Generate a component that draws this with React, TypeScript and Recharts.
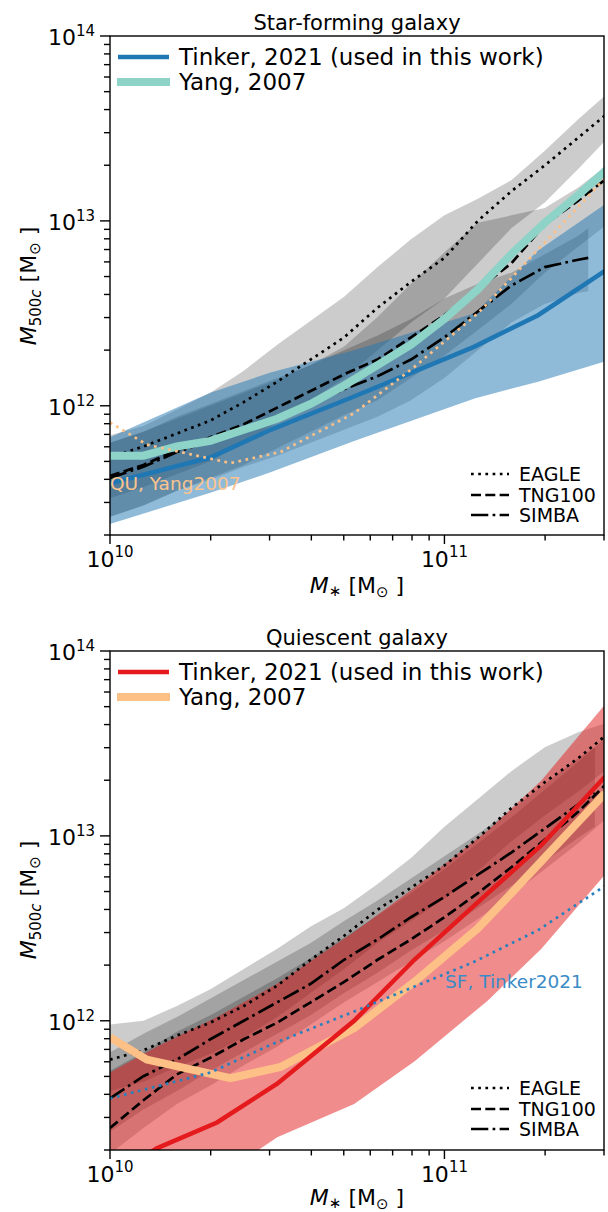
import React from "react";
import { ComposedChart, Area, Line, XAxis, YAxis } from "recharts";

// log10(M*) grid used by the simulation medians and most curves
const GRID = [10.0, 10.1, 10.2, 10.3, 10.4, 10.5, 10.6, 10.7, 10.8, 10.9, 11.0, 11.1, 11.2, 11.3, 11.4, 11.5];
const SIMBA_SF_X = [10.0, 10.1, 10.2, 10.3, 10.4, 10.5, 10.6, 10.7, 10.8, 10.9, 11.0, 11.1, 11.2, 11.3, 11.4, 11.43];
const SIMBA_QU_X = [10.0, 10.1, 10.2, 10.3, 10.4, 10.5, 10.6, 10.7, 10.8, 10.9, 11.0, 11.1, 11.2, 11.3, 11.4, 11.45];

// all values below are log10(M500c / Msun)

// Tinker 2021, star-forming
const tinkerSfX = [10.0, 10.3, 10.48, 10.73, 11.09, 11.28, 11.48];
const tinkerSfMed = [11.58, 11.72, 11.87, 12.05, 12.32, 12.49, 12.73];
const tinkerSfLo = [11.36, 11.53, 11.64, 11.81, 12.04, 12.13, 12.24];
const tinkerSfHi = [11.83, 12.07, 12.18, 12.3, 12.5, 12.84, 13.09];

// Yang 2007, star-forming (on GRID)
const yangSf = [11.73, 11.73, 11.78, 11.81, 11.87, 11.93, 12.01, 12.11, 12.22, 12.33, 12.47, 12.63, 12.82, 12.99, 13.14, 13.3];

// Yang 2007, quiescent
const yangQuX = [10.0, 10.11, 10.36, 10.51, 10.73, 10.91, 11.1, 11.2, 11.48];
const yangQu = [11.91, 11.79, 11.69, 11.75, 11.96, 12.21, 12.5, 12.69, 13.23];

// simulations, star-forming
const eagleSfMed = [11.72, 11.78, 11.85, 11.92, 12.02, 12.13, 12.25, 12.37, 12.53, 12.67, 12.8, 13.0, 13.16, 13.3, 13.45, 13.6];
const eagleSfHi = [11.84, 11.89, 11.98, 12.07, 12.19, 12.33, 12.46, 12.59, 12.75, 12.9, 13.03, 13.12, 13.22, 13.38, 13.55, 13.71];
const eagleSfLo = [11.5, 11.56, 11.63, 11.7, 11.8, 11.91, 12.03, 12.15, 12.3, 12.45, 12.58, 12.77, 12.96, 13.1, 13.28, 13.47];
const tngSfMed = [11.62, 11.68, 11.76, 11.83, 11.9, 11.99, 12.08, 12.17, 12.25, 12.37, 12.49, 12.63, 12.77, 12.98, 13.11, 13.25];
const tngSfHi = [11.8, 11.86, 11.93, 12.0, 12.07, 12.14, 12.22, 12.32, 12.48, 12.66, 12.83, 12.99, 13.03, 13.07, 13.18, 13.32];
const tngSfLo = [11.4, 11.46, 11.54, 11.61, 11.68, 11.77, 11.86, 11.95, 12.03, 12.15, 12.27, 12.41, 12.55, 12.72, 12.86, 13.0];
const simbaSfMed = [11.61, 11.67, 11.75, 11.81, 11.88, 11.94, 12.01, 12.09, 12.16, 12.25, 12.37, 12.51, 12.65, 12.75, 12.79, 12.8];
const simbaSfHi = [11.8, 11.86, 11.94, 12.01, 12.08, 12.15, 12.22, 12.3, 12.38, 12.47, 12.58, 12.66, 12.72, 12.82, 12.92, 12.96];
const simbaSfLo = [11.4, 11.46, 11.54, 11.6, 11.67, 11.73, 11.8, 11.87, 11.94, 12.03, 12.15, 12.3, 12.45, 12.55, 12.61, 12.62];

// Tinker 2021, quiescent
const tinkerQuX = [10.0, 10.14, 10.32, 10.5, 10.73, 10.91, 11.13, 11.29, 11.48];
const tinkerQuMed = [11.15, 11.31, 11.45, 11.66, 12.0, 12.33, 12.69, 12.95, 13.32];
const tinkerQuLo = [10.85, 10.97, 11.15, 11.37, 11.55, 11.78, 12.11, 12.39, 12.79];
const tinkerQuHi = [11.72, 11.86, 12.02, 12.2, 12.48, 12.72, 13.03, 13.3, 13.71];

// simulations, quiescent
const eagleQuMed = [11.79, 11.84, 11.92, 11.99, 12.08, 12.19, 12.33, 12.46, 12.6, 12.72, 12.84, 12.99, 13.15, 13.29, 13.42, 13.57];
const eagleQuHi = [11.98, 12.0, 12.08, 12.17, 12.28, 12.39, 12.51, 12.61, 12.74, 12.88, 13.05, 13.2, 13.35, 13.48, 13.56, 13.62];
const eagleQuLo = [11.62, 11.67, 11.75, 11.82, 11.91, 12.02, 12.15, 12.28, 12.42, 12.54, 12.66, 12.81, 12.97, 13.11, 13.24, 13.38];
const tngQuMed = [11.42, 11.57, 11.71, 11.8, 11.9, 11.99, 12.1, 12.21, 12.33, 12.44, 12.56, 12.69, 12.83, 12.98, 13.13, 13.31];
const tngQuHi = [11.73, 11.83, 11.94, 12.03, 12.13, 12.23, 12.34, 12.45, 12.57, 12.69, 12.82, 12.96, 13.1, 13.25, 13.4, 13.56];
const tngQuLo = [11.28, 11.42, 11.55, 11.65, 11.76, 11.86, 11.98, 12.1, 12.21, 12.32, 12.43, 12.55, 12.68, 12.82, 12.96, 13.12];
const simbaQuMed = [11.58, 11.7, 11.79, 11.9, 12.0, 12.1, 12.2, 12.33, 12.44, 12.56, 12.67, 12.79, 12.91, 13.04, 13.17, 13.23];
const simbaQuHi = [11.83, 11.93, 12.02, 12.12, 12.22, 12.32, 12.42, 12.54, 12.65, 12.77, 12.89, 13.01, 13.14, 13.28, 13.42, 13.48];
const simbaQuLo = [11.4, 11.52, 11.62, 11.73, 11.83, 11.93, 12.03, 12.15, 12.26, 12.38, 12.49, 12.61, 12.73, 12.86, 12.99, 13.05];

const X_TICKS = [1e10, 2e10, 3e10, 4e10, 5e10, 6e10, 7e10, 8e10, 9e10, 1e11, 2e11, 3e11];
const Y_TICKS = [
  2e11, 3e11, 4e11, 5e11, 6e11, 7e11, 8e11, 9e11,
  1e12, 2e12, 3e12, 4e12, 5e12, 6e12, 7e12, 8e12, 9e12,
  1e13, 2e13, 3e13, 4e13, 5e13, 6e13, 7e13, 8e13, 9e13, 1e14,
];

const FONT = "DejaVu Sans, sans-serif";
const LW = 2.7;
const DOT = "2.7 4.5";
const DASH = "10 4.3";
const DASHDOT = "17.3 4.3 2.7 4.3";

type Row = { x: number; [k: string]: any };

function buildRows(
  lines: [string, number[], number[]][],
  bands: [string, number[], number[], number[]][]
): Row[] {
  const map = new Map<number, Row>();
  const get = (lx: number) => {
    const k = Math.round(lx * 1000);
    if (!map.has(k)) map.set(k, { x: Math.pow(10, lx) });
    return map.get(k)!;
  };
  lines.forEach(([key, xs, ys]) => xs.forEach((lx, i) => { get(lx)[key] = Math.pow(10, ys[i]); }));
  bands.forEach(([key, xs, lo, hi]) =>
    xs.forEach((lx, i) => { get(lx)[key] = [Math.pow(10, lo[i]), Math.pow(10, hi[i])]; })
  );
  return Array.from(map.entries()).sort((a, b) => a[0] - b[0]).map((e) => e[1]);
}

const sfRows = buildRows(
  [
    ["eagle", GRID, eagleSfMed],
    ["tng", GRID, tngSfMed],
    ["simba", SIMBA_SF_X, simbaSfMed],
    ["tinker", tinkerSfX, tinkerSfMed],
    ["yang", GRID, yangSf],
    ["other", yangQuX, yangQu],
  ],
  [
    ["eagleBand", GRID, eagleSfLo, eagleSfHi],
    ["tngBand", GRID, tngSfLo, tngSfHi],
    ["simbaBand", SIMBA_SF_X, simbaSfLo, simbaSfHi],
    ["tinkerBand", tinkerSfX, tinkerSfLo, tinkerSfHi],
  ]
);

const quRows = buildRows(
  [
    ["eagle", GRID, eagleQuMed],
    ["tng", GRID, tngQuMed],
    ["simba", SIMBA_QU_X, simbaQuMed],
    ["tinker", tinkerQuX, tinkerQuMed],
    ["yang", yangQuX, yangQu],
    ["other", tinkerSfX, tinkerSfMed],
  ],
  [
    ["eagleBand", GRID, eagleQuLo, eagleQuHi],
    ["tngBand", GRID, tngQuLo, tngQuHi],
    ["simbaBand", SIMBA_QU_X, simbaQuLo, simbaQuHi],
    ["tinkerBand", tinkerQuX, tinkerQuLo, tinkerQuHi],
  ]
);

const isMajor = (v: number) => Math.abs(Math.log10(v) - Math.round(Math.log10(v))) < 1e-6;

const XTick = (props: any) => {
  const { x, y, payload } = props;
  const v = payload.value;
  const major = isMajor(v);
  return (
    <g>
      <line x1={x} x2={x} y1={y} y2={y + (major ? 9 : 5.5)} stroke="#000" strokeWidth={1.4} />
      {major && (
        <text x={x} y={y + 32} textAnchor="middle" fontSize={22} fontFamily={FONT} fill="#000">
          10<tspan dy={-10} fontSize={15}>{Math.round(Math.log10(v))}</tspan>
        </text>
      )}
    </g>
  );
};

const YTick = (props: any) => {
  const { x, y, payload } = props;
  const v = payload.value;
  const major = isMajor(v);
  return (
    <g>
      <line x1={x - (major ? 10 : 6)} x2={x} y1={y} y2={y} stroke="#000" strokeWidth={1.4} />
      {major && (
        <text x={x - 15} y={y + 9} textAnchor="end" fontSize={22} fontFamily={FONT} fill="#000">
          10<tspan dy={-9} fontSize={15}>{Math.round(Math.log10(v))}</tspan>
        </text>
      )}
    </g>
  );
};

const bandProps = {
  type: "linear" as const,
  stroke: "none",
  connectNulls: true,
  dot: false,
  activeDot: false,
  isAnimationActive: false,
};
const lineProps = {
  type: "linear" as const,
  connectNulls: true,
  dot: false,
  activeDot: false,
  isAnimationActive: false,
};

const Panel = ({ rows, sf, height, bottom }: { rows: Row[]; sf: boolean; height: number; bottom: number }) => (
  <ComposedChart width={608} height={height} data={rows} margin={{ top: 36, right: 4, left: 10, bottom }}>
    <XAxis
      dataKey="x"
      type="number"
      scale="log"
      domain={[1e10, 3e11]}
      allowDataOverflow
      ticks={X_TICKS}
      interval={0}
      tick={<XTick />}
      tickLine={false}
      axisLine={false}
      tickSize={0}
      tickMargin={0}
      height={60}
    />
    <YAxis
      type="number"
      scale="log"
      domain={[2e11, 1e14]}
      allowDataOverflow
      ticks={Y_TICKS}
      interval={0}
      tick={<YTick />}
      tickLine={false}
      axisLine={false}
      tickSize={0}
      tickMargin={0}
      width={100}
    />
    <Area dataKey="eagleBand" fill="#000" fillOpacity={0.2} {...bandProps} />
    <Area dataKey="tngBand" fill="#000" fillOpacity={0.2} {...bandProps} />
    <Area dataKey="simbaBand" fill="#000" fillOpacity={0.2} {...bandProps} />
    <Area dataKey="tinkerBand" fill={sf ? "#1f77b4" : "#e41a1c"} fillOpacity={0.5} {...bandProps} />
    <Line dataKey="eagle" stroke="#000" strokeWidth={LW} strokeDasharray={DOT} {...lineProps} />
    <Line dataKey="tng" stroke="#000" strokeWidth={LW} strokeDasharray={DASH} {...lineProps} />
    <Line dataKey="simba" stroke="#000" strokeWidth={LW} strokeDasharray={DASHDOT} {...lineProps} />
    {sf ? (
      <Line dataKey="tinker" stroke="#1f77b4" strokeWidth={4.5} {...lineProps} />
    ) : (
      <Line dataKey="yang" stroke="#fdc086" strokeWidth={8} {...lineProps} />
    )}
    {sf ? (
      <Line dataKey="yang" stroke="#8dd3c7" strokeWidth={8} {...lineProps} />
    ) : (
      <Line dataKey="tinker" stroke="#e41a1c" strokeWidth={4.5} {...lineProps} />
    )}
    <Line
      dataKey="other"
      stroke={sf ? "#fdc086" : "#2a80bd"}
      strokeWidth={LW}
      strokeDasharray={DOT}
      {...lineProps}
    />
  </ComposedChart>
);

const StyleKey = ({ y0 }: { y0: number }) => (
  <g fontSize={19} fontFamily={FONT} fill="#000">
    <line x1={471} x2={509} y1={y0} y2={y0} stroke="#000" strokeWidth={LW} strokeDasharray={DOT} />
    <text x={519} y={y0 + 7}>EAGLE</text>
    <line x1={471} x2={509} y1={y0 + 21} y2={y0 + 21} stroke="#000" strokeWidth={LW} strokeDasharray={DASH} />
    <text x={519} y={y0 + 28}>TNG100</text>
    <line x1={471} x2={509} y1={y0 + 41} y2={y0 + 41} stroke="#000" strokeWidth={LW} strokeDasharray={DASHDOT} />
    <text x={519} y={y0 + 48}>SIMBA</text>
  </g>
);

const XLabel = ({ y }: { y: number }) => (
  <text x={357} y={y} textAnchor="middle" fontSize={22} fontFamily={FONT}>
    <tspan fontStyle="italic">M</tspan>
    <tspan fontSize={15} dy={3}>∗</tspan>
    <tspan dy={-3}> [M</tspan>
    <tspan fontSize={15} dy={4}>⊙</tspan>
    <tspan dy={-4}> ]</tspan>
  </text>
);

const YLabel = ({ cy }: { cy: number }) => (
  <text
    x={36}
    y={cy}
    textAnchor="middle"
    fontSize={22}
    fontFamily={FONT}
    transform={`rotate(-90 36 ${cy})`}
  >
    <tspan fontStyle="italic">M</tspan>
    <tspan fontSize={15} dy={5}>500</tspan>
    <tspan fontSize={15} fontStyle="italic">c</tspan>
    <tspan dy={-5}> [M</tspan>
    <tspan fontSize={15} dy={4}>⊙</tspan>
    <tspan dy={-4}> ]</tspan>
  </text>
);

const App = () => (
  <div style={{ position: "fixed", top: 0, left: 0, width: 608, height: 1212, background: "#fff", overflow: "hidden" }}>
    <div style={{ position: "absolute", top: 0, left: 0 }}>
      <Panel rows={sfRows} sf={true} height={600} bottom={5} />
    </div>
    <div style={{ position: "absolute", top: 615, left: 0 }}>
      <Panel rows={quRows} sf={false} height={597} bottom={2} />
    </div>
    <svg
      width={608}
      height={1212}
      style={{ position: "absolute", top: 0, left: 0, pointerEvents: "none" }}
      fontFamily={FONT}
    >
      {/* star-forming panel */}
      <rect x={110} y={36} width={494} height={499} fill="none" stroke="#000" strokeWidth={1.4} />
      <text x={357} y={30} textAnchor="middle" fontSize={21}>Star-forming galaxy</text>
      <line x1={118} x2={169} y1={57} y2={57} stroke="#1f77b4" strokeWidth={4.5} />
      <text x={179} y={65} fontSize={23}>Tinker, 2021 (used in this work)</text>
      <line x1={117} x2={170} y1={82} y2={82} stroke="#8dd3c7" strokeWidth={8} />
      <text x={179} y={90} fontSize={23}>Yang, 2007</text>
      <StyleKey y0={474} />
      <text x={110} y={490} fontSize={18.5} fill="#fdc48e">QU, Yang2007</text>
      <XLabel y={593} />
      <YLabel cy={286} />

      {/* quiescent panel */}
      <rect x={110} y={651} width={494} height={499} fill="none" stroke="#000" strokeWidth={1.4} />
      <text x={357} y={645} textAnchor="middle" fontSize={21}>Quiescent galaxy</text>
      <line x1={118} x2={169} y1={672} y2={672} stroke="#e41a1c" strokeWidth={4.5} />
      <text x={179} y={680} fontSize={23}>Tinker, 2021 (used in this work)</text>
      <line x1={117} x2={170} y1={697} y2={697} stroke="#fdc086" strokeWidth={8} />
      <text x={179} y={705} fontSize={23}>Yang, 2007</text>
      <StyleKey y0={1088} />
      <text x={445} y={988} fontSize={18.5} fill="#3a8bc6">SF, Tinker2021</text>
      <XLabel y={1205} />
      <YLabel cy={900} />
    </svg>
  </div>
);

export default App;
